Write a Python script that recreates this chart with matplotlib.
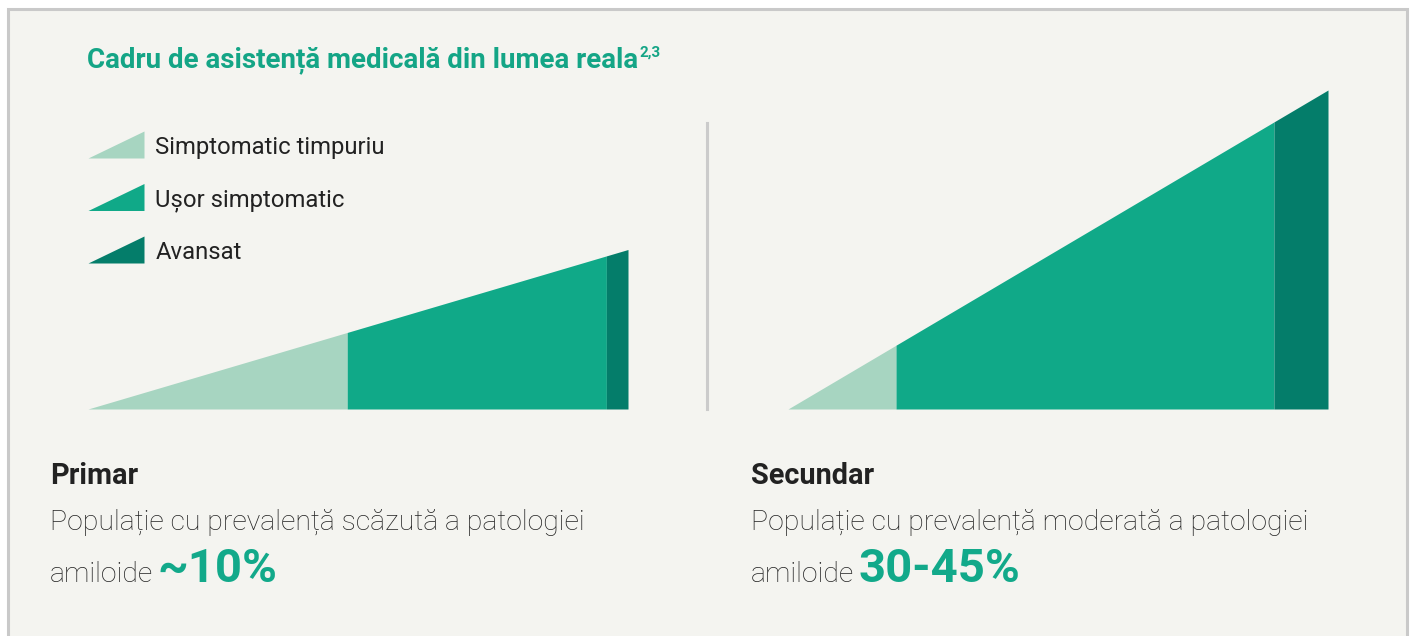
import matplotlib

matplotlib.use("Agg")
import matplotlib.pyplot as plt
from matplotlib.lines import Line2D
from matplotlib.patches import Rectangle

plt.rcParams["font.family"] = ["Roboto", "DejaVu Sans"]

# stage boundaries along each triangle, in % of its width
stages = ["Simptomatic timpuriu", "Ușor simptomatic", "Avansat"]
primary_breaks = [0, 48, 96, 100]
secondary_breaks = [0, 20, 90, 100]
# height reached at the right edge (secondary = 100)
primary_peak = 50
secondary_peak = 100

colors = ["#a7d5c1", "#10a988", "#047d6a"]
green = "#14a586"
ink = "#222222"

W, H = 1413, 636
fig = plt.figure(figsize=(W / 100, H / 100), dpi=100, facecolor="white")


def fx(px):
    return px / W


def fy(py):
    return 1 - py / H


fig.add_artist(Rectangle((fx(7.5), fy(640)), fx(1399), (640 - 8.5) / H,
                         transform=fig.transFigure, facecolor="#f4f4f0",
                         edgecolor="#c9c9c9", linewidth=2.2, zorder=0))


def draw_triangle(left_px, breaks, peak):
    ax = fig.add_axes([fx(left_px), fy(409), fx(540), 319 / H])
    ax.set_xlim(0, 100)
    ax.set_ylim(0, 100)
    ax.axis("off")
    for i, c in enumerate(colors):
        x = [breaks[i], breaks[i + 1]]
        ax.fill_between(x, 0, [peak * v / 100 for v in x], color=c, linewidth=0)
    return ax


draw_triangle(88, primary_breaks, primary_peak)
draw_triangle(788, secondary_breaks, secondary_peak)

fig.add_artist(Line2D([fx(706.5), fx(706.5)], [fy(123), fy(409)],
                      transform=fig.transFigure, color="#cbcbcb", linewidth=2.2))

# legend
lax = fig.add_axes([fx(88), fy(263), fx(56), 132 / H])
lax.set_xlim(0, 1)
lax.set_ylim(0, 132 / 52.5)
lax.axis("off")
for i, (label, c) in enumerate(zip(stages, colors)):
    base = len(stages) - 1 - i
    lax.fill_between([0, 1], base, [base, base + 27 / 52.5], color=c, linewidth=0)
    lax.text(1.2, base + 0.08, label, fontsize=17.2, color=ink, va="baseline", ha="left")

renderer = fig.canvas.get_renderer()

t = fig.text(fx(87), fy(67), "Cadru de asistență medicală din lumea reala",
             fontsize=20, fontweight="bold", color=green, va="baseline")
bb = t.get_window_extent(renderer)
fig.text((bb.x1 + 1) / W, fy(57), "2,3", fontsize=11, fontweight="bold", color=green, va="baseline")

panels = [
    (50, "Primar", "Populație cu prevalență scăzută a patologiei", "~10%"),
    (751, "Secundar", "Populație cu prevalență moderată a patologiei", "30-45%"),
]
for x0, head, line, value in panels:
    fig.text(fx(x0), fy(484), head, fontsize=20.8, fontweight="bold", color=ink, va="baseline")
    fig.text(fx(x0), fy(530), line, fontsize=20.4, fontweight="light", color=ink, va="baseline")
    a = fig.text(fx(x0), fy(582), "amiloide", fontsize=20.4, fontweight="light", color=ink, va="baseline")
    bb = a.get_window_extent(renderer)
    fig.text((bb.x1 + 4) / W, fy(582), value, fontsize=34, fontweight="bold", color="#12a98a", va="baseline")

fig.savefig("out.png", dpi=100, facecolor="white")
